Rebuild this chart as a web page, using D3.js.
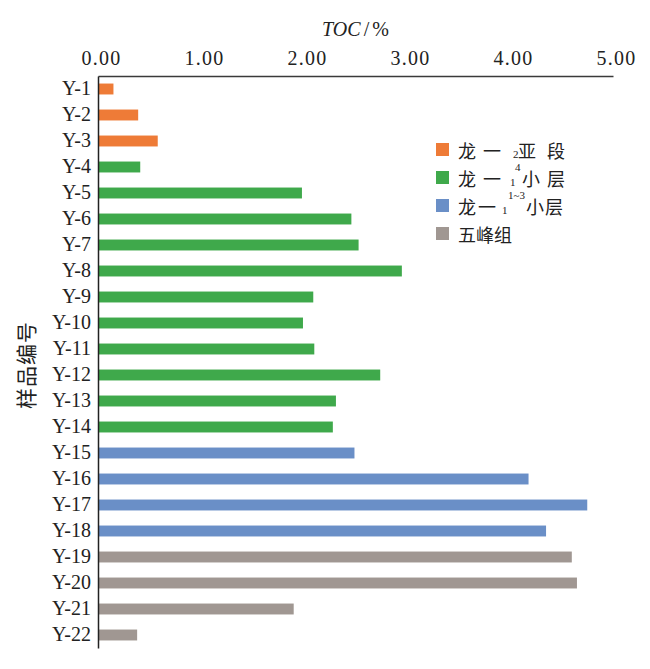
<!DOCTYPE html>
<html>
<head>
<meta charset="utf-8">
<script src="https://cdn.jsdelivr.net/npm/d3@7"></script>
<style>
  html, body { margin: 0; padding: 0; background: #fff; }
  svg { display: block; }
</style>
</head>
<body>
<svg id="chart" width="650" height="669"></svg>
<script>
// ---- data ----
const categories = ["Y-1","Y-2","Y-3","Y-4","Y-5","Y-6","Y-7","Y-8","Y-9","Y-10","Y-11","Y-12","Y-13","Y-14","Y-15","Y-16","Y-17","Y-18","Y-19","Y-20","Y-21","Y-22"];
const tocValues = [0.15,0.39,0.58,0.41,1.98,2.46,2.53,2.95,2.09,1.99,2.10,2.74,2.31,2.28,2.49,4.18,4.75,4.35,4.60,4.65,1.90,0.38];
const groupOf = [0,0,0,1,1,1,1,1,1,1,1,1,1,1,2,2,2,2,3,3,3,3];
const groupNames = ["龙一2亚段","龙一14小层","龙一11~3小层","五峰组"];
const groupColors = ["#EE7B37","#3FA94B","#6A8FC7","#A09792"];
const xTicks = [0,1,2,3,4,5];
const xTitle = "TOC/%";
const yTitle = "样品编号";

(function () {
// ---- layout ----
const svg = d3.select("#chart");
const mLeft = 98, mRight = 613, mTop = 76, mBottom = 648;
const serif = "'Liberation Serif','DejaVu Serif',serif";
const cjk = "'Noto Sans CJK SC','Noto Sans',sans-serif";

const x = d3.scaleLinear().domain([0, 5]).range([mLeft, mRight]);
const y = d3.scaleBand().domain(categories).range([mTop, mBottom]).paddingInner(0.58).paddingOuter(0.29);

// bars
svg.append("g").selectAll("rect").data(categories).join("rect")
  .attr("x", x(0))
  .attr("y", d => y(d))
  .attr("width", (d, i) => x(tocValues[i]) - x(0))
  .attr("height", y.bandwidth())
  .attr("fill", (d, i) => groupColors[groupOf[i]]);

// top axis
const xAxis = svg.append("g").attr("transform", `translate(0,${mTop})`)
  .call(d3.axisTop(x).tickValues(xTicks).tickFormat(d3.format(".2f")).tickSize(0).tickSizeOuter(0).tickPadding(11));
xAxis.select(".domain").attr("stroke", "#3a3a3a").attr("stroke-width", 1.5);
xAxis.selectAll("text").attr("font-family", serif).attr("font-size", 20).attr("fill", "#222")
  .attr("letter-spacing", "1.3px").attr("dx", "3px");

// left axis
const yAxis = svg.append("g").attr("transform", `translate(${mLeft},0)`)
  .call(d3.axisLeft(y).tickSize(0).tickSizeOuter(0).tickPadding(7));
yAxis.select(".domain").attr("stroke", "#222").attr("stroke-width", 1.5);
yAxis.selectAll("text").attr("font-family", serif).attr("font-size", 20).attr("fill", "#222");

// x title
const xt = svg.append("text").attr("x", (mLeft + mRight) / 2).attr("y", 36)
  .attr("text-anchor", "middle").attr("font-family", serif).attr("font-size", 20).attr("fill", "#222");
xt.append("tspan").attr("font-style", "italic").text(xTitle.split("/")[0]);
xt.append("tspan").attr("dx", "3").text("/");
xt.append("tspan").attr("dx", "3").text(xTitle.split("/")[1]);

// y title
svg.append("text").attr("transform", `translate(34,365) rotate(-90)`)
  .attr("text-anchor", "middle").attr("font-family", cjk).attr("font-size", 21)
  .attr("letter-spacing", "1px").attr("fill", "#222").text(yTitle);

// legend
const legendRows = [
  [{t:"龙",x:0},{t:"一",x:25},{t:"2",x:55,s:"sub"},{t:"亚",x:60},{t:"段",x:89}],
  [{t:"龙",x:0},{t:"一",x:25},{t:"1",x:52,s:"sub"},{t:"4",x:57,s:"sup"},{t:"小",x:64},{t:"层",x:89}],
  [{t:"龙",x:0},{t:"一",x:20},{t:"1",x:44,s:"sub"},{t:"1~3",x:50,s:"sup"},{t:"小",x:68},{t:"层",x:87}],
  [{t:"五峰组",x:0}]
];
const lg = svg.append("g").attr("transform", "translate(436,143)");
legendRows.forEach((row, i) => {
  const g = lg.append("g").attr("transform", `translate(0,${i * 28})`);
  g.append("rect").attr("width", 13).attr("height", 13).attr("fill", groupColors[i]);
  row.forEach(seg => {
    const tx = g.append("text").attr("x", 22 + seg.x).attr("fill", "#222").text(seg.t);
    if (seg.s === "sub") {
      tx.attr("y", 15).attr("font-family", serif).attr("font-size", 11);
    } else if (seg.s === "sup") {
      tx.attr("y", 0).attr("font-family", serif).attr("font-size", 11);
    } else {
      tx.attr("y", 6.5).attr("dominant-baseline", "central").attr("font-family", cjk).attr("font-size", 18);
    }
  });
});
})();
</script>
</body>
</html>
